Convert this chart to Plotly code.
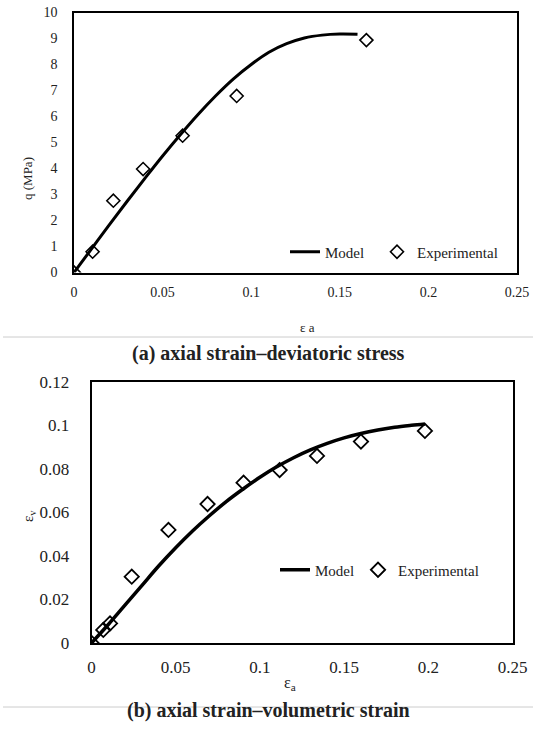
import plotly.graph_objects as go

# ---------- data: (a) axial strain - deviatoric stress ----------
model_a_x = [0, 0.01, 0.02, 0.03, 0.04, 0.05, 0.06, 0.07, 0.08, 0.09, 0.10, 0.11, 0.12, 0.13, 0.14, 0.15, 0.16]
model_a_q = [0, 0.92, 1.84, 2.74, 3.62, 4.48, 5.30, 6.08, 6.80, 7.45, 8.00, 8.47, 8.80, 9.02, 9.13, 9.17, 9.16]
exp_a_x = [0, 0.0105, 0.0222, 0.039, 0.0613, 0.0918, 0.165]
exp_a_q = [0, 0.80, 2.76, 3.98, 5.26, 6.79, 8.94]

# ---------- data: (b) axial strain - volumetric strain ----------
model_b_x = [0, 0.01, 0.02, 0.03, 0.04, 0.05, 0.06, 0.07, 0.08, 0.09, 0.10, 0.11, 0.12, 0.13, 0.14, 0.15, 0.16, 0.17, 0.18, 0.19, 0.198]
model_b_v = [0, 0.0085, 0.0175, 0.0265, 0.0355, 0.0438, 0.0515, 0.0585, 0.065, 0.0708, 0.0762, 0.081, 0.0852,
             0.0888, 0.0918, 0.0943, 0.0963, 0.0979, 0.0992, 0.1001, 0.1007]
exp_b_x = [0, 0.007, 0.011, 0.0239, 0.0457, 0.0689, 0.0903, 0.1117, 0.1339, 0.160, 0.198]
exp_b_v = [0, 0.006, 0.009, 0.0305, 0.052, 0.0639, 0.0737, 0.0795, 0.0860, 0.0926, 0.0975]

x_ticks = [0, 0.05, 0.1, 0.15, 0.2, 0.25]
x_tick_text = ["0", "0.05", "0.1", "0.15", "0.2", "0.25"]
q_ticks = list(range(0, 11))
v_ticks = [0, 0.02, 0.04, 0.06, 0.08, 0.1, 0.12]
v_tick_text = ["0", "0.02", "0.04", "0.06", "0.08", "0.1", "0.12"]

W, H = 533, 738
SERIF = "Liberation Serif, Times New Roman, serif"
TXT = "#222222"


def px_x(p):
    return p / W


def px_y(p):
    return 1 - p / H


fig = go.Figure()

fig.add_trace(go.Scatter(x=model_a_x, y=model_a_q, mode="lines", name="Model",
                         line=dict(color="black", width=3, shape="spline"),
                         xaxis="x", yaxis="y", legend="legend"))
fig.add_trace(go.Scatter(x=exp_a_x, y=exp_a_q, mode="markers", name="Experimental",
                         marker=dict(symbol="diamond-open", size=10, color="black",
                                     line=dict(width=1.6, color="black")),
                         xaxis="x", yaxis="y", legend="legend2"))

fig.add_trace(go.Scatter(x=model_b_x, y=model_b_v, mode="lines", name="Model",
                         line=dict(color="black", width=3.5, shape="spline"),
                         xaxis="x2", yaxis="y2", legend="legend3"))
fig.add_trace(go.Scatter(x=exp_b_x, y=exp_b_v, mode="markers", name="Experimental",
                         marker=dict(symbol="diamond-open", size=11, color="black",
                                     line=dict(width=1.8, color="black")),
                         xaxis="x2", yaxis="y2", legend="legend4"))

axis_common = dict(showline=True, linecolor="black", mirror=True, showgrid=False,
                   zeroline=False, ticks="", automargin=False)


def legend_at(xpx, ypx):
    return dict(orientation="h", x=px_x(xpx), y=px_y(ypx), xanchor="left", yanchor="middle",
                bgcolor="rgba(0,0,0,0)", font=dict(size=15, family=SERIF, color=TXT),
                itemwidth=30)


fig.update_layout(
    template="none",
    width=W, height=H,
    margin=dict(l=0, r=0, t=0, b=0, autoexpand=False),
    paper_bgcolor="white", plot_bgcolor="white",
    font=dict(family=SERIF, color=TXT),
    xaxis=dict(domain=[px_x(74), px_x(517)], anchor="y", range=[0, 0.25],
               tickvals=x_ticks, ticktext=x_tick_text, linewidth=1.5,
               tickfont=dict(size=14, color=TXT), ticklabelstandoff=6, **axis_common),
    yaxis=dict(domain=[px_y(272.5), px_y(12.5)], anchor="x", range=[0, 10],
               tickvals=q_ticks, linewidth=1.5, tickfont=dict(size=14, color=TXT),
               ticklabelstandoff=12, **axis_common),
    xaxis2=dict(domain=[px_x(91.5), px_x(512.5)], anchor="y2", range=[0, 0.25],
                tickvals=x_ticks, ticktext=x_tick_text, linewidth=1.5,
                tickfont=dict(size=17, color=TXT), ticklabelstandoff=8, **axis_common),
    yaxis2=dict(domain=[px_y(643), px_y(382)], anchor="x2", range=[0, 0.12],
                tickvals=v_ticks, ticktext=v_tick_text, linewidth=1.5,
                tickfont=dict(size=17, color=TXT), ticklabelstandoff=17, **axis_common),
    legend=legend_at(285, 252),
    legend2=legend_at(377, 252),
    legend3=legend_at(275, 570),
    legend4=legend_at(358, 570),
    showlegend=True,
)

annotations = [
    dict(text="ε a", x=px_x(307), y=px_y(327), xref="paper", yref="paper",
         showarrow=False, font=dict(size=13, family=SERIF, color=TXT)),
    dict(text="q (MPa)", x=px_x(18), y=px_y(155), xref="paper", yref="paper",
         showarrow=False, textangle=-90, font=dict(size=13, family=SERIF, color=TXT)),
    dict(text="<b>(a) axial strain–deviatoric stress</b>", x=px_x(268), y=px_y(353),
         xref="paper", yref="paper", showarrow=False,
         font=dict(size=20, family=SERIF, color=TXT)),
    dict(text="ε<sub>a</sub>", x=px_x(290), y=px_y(695), xref="paper", yref="paper",
         showarrow=False, font=dict(size=16, family=SERIF, color=TXT)),
    dict(text="ε<sub>v</sub>", x=px_x(18), y=px_y(524), xref="paper", yref="paper",
         showarrow=False, textangle=-90, font=dict(size=15, family=SERIF, color=TXT)),
    dict(text="<b>(b) axial strain–volumetric strain</b>", x=px_x(268), y=px_y(724),
         xref="paper", yref="paper", showarrow=False,
         font=dict(size=20, family=SERIF, color=TXT)),
]
fig.update_layout(annotations=annotations)

fig.update_layout(shapes=[
    dict(type="line", xref="paper", yref="paper", x0=px_x(3), x1=1,
         y0=px_y(337), y1=px_y(337), line=dict(color="#cccccc", width=1)),
    dict(type="line", xref="paper", yref="paper", x0=px_x(3), x1=1,
         y0=px_y(707), y1=px_y(707), line=dict(color="#cccccc", width=1)),
])

fig.write_html("out.html", config={"displayModeBar": False},
               post_script="document.body.style.margin='0';document.body.style.overflow='hidden';")
